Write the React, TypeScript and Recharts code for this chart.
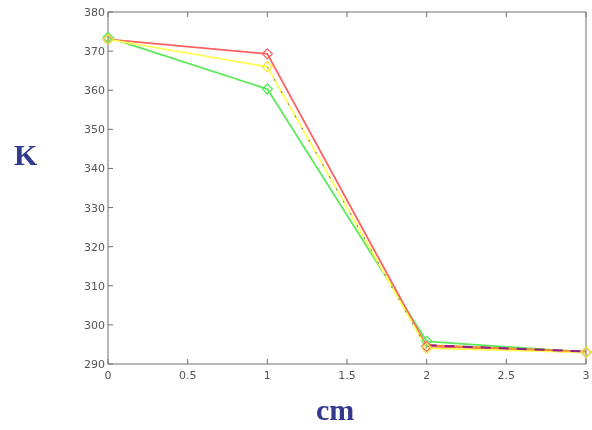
import React from "react";
import { LineChart, Line, XAxis, YAxis } from "recharts";

const xs = [0, 1, 2, 3];
const red = [373, 369.3, 294.5, 293];
const yellow = [373, 366, 294, 293];
const green = [373.5, 360.3, 295.8, 293];
const gray = [null, 366, 294, null];
const purple = [null, null, 294.8, 293.2];
const xTicks = [0, 0.5, 1, 1.5, 2, 2.5, 3];
const yTicks = [290, 300, 310, 320, 330, 340, 350, 360, 370, 380];

const data = xs.map((x, i) => ({
  x,
  red: red[i],
  yellow: yellow[i],
  green: green[i],
  gray: gray[i],
  purple: purple[i],
}));

const axisColor = "#707070";
const tickFont = { fontFamily: "DejaVu Sans, sans-serif", fontSize: 11, fill: "#555" };

const BottomTick = (props: any) => {
  const { x, y, payload } = props;
  return (
    <g>
      <line x1={x} y1={y} x2={x} y2={y - 5} stroke={axisColor} />
      <text x={x} y={y + 15} textAnchor="middle" {...tickFont}>
        {payload.value}
      </text>
    </g>
  );
};

const TopTick = (props: any) => {
  const { x, y } = props;
  return <line x1={x} y1={y} x2={x} y2={y + 5} stroke={axisColor} />;
};

const LeftTick = (props: any) => {
  const { x, y, payload } = props;
  return (
    <g>
      <line x1={x} y1={y} x2={x + 5} y2={y} stroke={axisColor} />
      <text x={x - 3} y={y + 4} textAnchor="end" {...tickFont}>
        {payload.value}
      </text>
    </g>
  );
};

const RightTick = (props: any) => {
  const { x, y } = props;
  return <line x1={x} y1={y} x2={x - 5} y2={y} stroke={axisColor} />;
};

const diamond = (color: string) => (props: any) => {
  const { cx, cy, index } = props;
  if (cx == null || cy == null) return <g key={index} />;
  const r = 5;
  return (
    <path
      key={index}
      d={`M${cx},${cy - r} L${cx + r},${cy} L${cx},${cy + r} L${cx - r},${cy} Z`}
      fill="none"
      stroke={color}
      strokeWidth={1.3}
    />
  );
};

const labelStyle: React.CSSProperties = {
  position: "absolute",
  fontFamily: "Liberation Serif, serif",
  fontWeight: "bold",
  fontSize: 30,
  lineHeight: 1,
  color: "#333a8c",
};

export default function App() {
  return (
    <div style={{ position: "fixed", left: 0, top: 0, width: 592, height: 430, overflow: "hidden" }}>
      <style>{`html, body { overflow: hidden; }`}</style>
      <LineChart
        width={592}
        height={430}
        data={data}
        margin={{ top: 11, right: 5, bottom: 46, left: 78 }}
      >
        <XAxis
          xAxisId="b"
          dataKey="x"
          type="number"
          domain={[0, 3]}
          ticks={xTicks}
          tickSize={0}
          tickMargin={0}
          tickLine={false}
          tick={<BottomTick />}
          stroke={axisColor}
          height={20}
          interval={0}
        />
        <XAxis
          xAxisId="t"
          orientation="top"
          dataKey="x"
          type="number"
          domain={[0, 3]}
          ticks={xTicks}
          tickSize={0}
          tickMargin={0}
          tickLine={false}
          tick={<TopTick />}
          stroke={axisColor}
          height={1}
          interval={0}
        />
        <YAxis
          yAxisId="l"
          type="number"
          domain={[290, 380]}
          ticks={yTicks}
          tickSize={0}
          tickMargin={0}
          tickLine={false}
          tick={<LeftTick />}
          stroke={axisColor}
          width={30}
          interval={0}
        />
        <YAxis
          yAxisId="r"
          orientation="right"
          type="number"
          domain={[290, 380]}
          ticks={yTicks}
          tickSize={0}
          tickMargin={0}
          tickLine={false}
          tick={<RightTick />}
          stroke={axisColor}
          width={1}
          interval={0}
        />
        <Line xAxisId="b" yAxisId="l" dataKey="green" stroke="#5aea5a" strokeWidth={1.8} dot={diamond("#5aea5a")} isAnimationActive={false} />
        <Line xAxisId="b" yAxisId="l" dataKey="red" stroke="#ff6060" strokeWidth={1.8} dot={diamond("#ff6060")} isAnimationActive={false} />
        <Line xAxisId="b" yAxisId="l" dataKey="yellow" stroke="#ffff58" strokeWidth={1.8} dot={diamond("#f2e848")} isAnimationActive={false} />
        <Line xAxisId="b" yAxisId="l" dataKey="gray" stroke="#888" strokeWidth={1.2} strokeDasharray="2 12" dot={false} isAnimationActive={false} />
        <Line xAxisId="b" yAxisId="l" dataKey="purple" stroke="#f09030" strokeWidth={2} dot={false} isAnimationActive={false} />
        <Line xAxisId="b" yAxisId="l" dataKey="purple" stroke="#8a2090" strokeWidth={2} strokeDasharray="10 8" dot={false} isAnimationActive={false} />
      </LineChart>
      <div style={{ ...labelStyle, left: 14, top: 140 }}>K</div>
      <div style={{ ...labelStyle, left: 316, top: 395 }}>cm</div>
    </div>
  );
}
